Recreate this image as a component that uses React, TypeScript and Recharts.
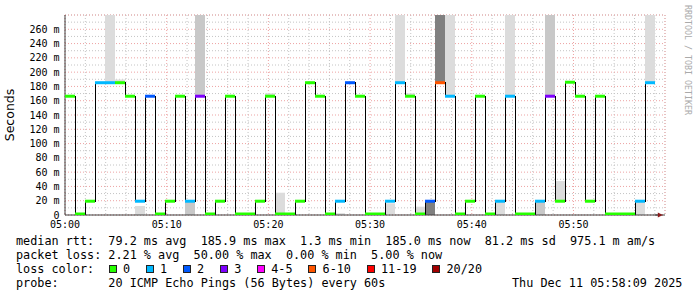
import { ComposedChart, Bar, Cell, Line, XAxis, YAxis, CartesianGrid, ReferenceDot } from "recharts";

// one slot per 60 s probe round (20 pings), 04:58 .. 05:56
const median = [
  166.3, 1.4, 19.3, 185.2, 185.2, 185.2, 166.3, 19.3, 166.3, 1.4,
  19.3, 166.3, 19.3, 166.3, 1.4, 19.3, 166.3, 1.4, 1.4, 19.3,
  166.3, 1.4, 1.4, 19.3, 185.2, 166.3, 1.4, 19.3, 185.2, 166.3,
  1.4, 1.4, 19.3, 185.2, 166.3, 1.4, 19.3, 185.2, 166.3, 1.4,
  19.3, 166.3, 1.4, 19.3, 166.3, 1.4, 1.4, 19.3, 166.3, 19.3,
  185.9, 166.3, 19.3, 166.3, 1.4, 1.4, 1.4, 19.3, 185.2,
];

// lost pings out of 20 per slot
const lostPings = [
  0, 0, 0, 1, 1, 0, 0, 1, 2, 0,
  0, 0, 1, 3, 0, 0, 0, 0, 0, 0,
  0, 0, 0, 0, 0, 0, 0, 1, 2, 0,
  0, 0, 1, 1, 0, 0, 2, 10, 1, 0,
  0, 0, 0, 1, 1, 0, 0, 1, 3, 0,
  0, 0, 0, 0, 0, 0, 0, 1, 1,
];

// smoke: spread of the individual pings [low, high] in ms
const smoke: ([number, number] | null)[] = [
  null, null, null, null, [185.2, 280], [185.2, 189.7], null, [0, 12.6], null, null,
  null, null, [0, 19.3], [166.3, 280], null, null, null, null, null, null,
  [166.3, 170.4], [0, 31.2], null, null, null, null, null, [0, 2.5], null, null,
  null, null, [1.4, 16.4], [185.2, 280], [166.3, 170.4], [1.4, 11.6], [0, 19.3], [185.2, 280], [166.3, 280], null,
  null, null, null, [0, 19.3], [166.3, 280], null, null, [0, 19.3], [166.3, 280], [19.3, 47.5],
  null, null, null, null, null, null, null, [0, 19.3], [185.2, 280],
];

// smoke density: 0 none, 1 light, 2 medium, 3 dense
const smokeDensity = [
  0, 0, 0, 0, 1, 1, 0, 1, 0, 0,
  0, 0, 2, 2, 0, 0, 0, 0, 0, 0,
  1, 1, 0, 0, 0, 0, 0, 1, 0, 0,
  0, 0, 1, 1, 1, 1, 3, 3, 1, 0,
  0, 0, 0, 1, 1, 0, 0, 2, 2, 1,
  0, 0, 0, 0, 0, 0, 0, 1, 1,
];

// minutes after 05:00
const timeTicks = [0, 10, 20, 30, 40, 50];
const timeLabels = ["05:00", "05:10", "05:20", "05:30", "05:40", "05:50"];
const minorMinutes = [2, 4, 6, 8, 12, 14, 16, 18, 22, 24, 26, 28, 32, 34, 36, 38, 42, 44, 46, 48, 52, 54, 56, 58];

const yTicks = [0, 20, 40, 60, 80, 100, 120, 140, 160, 180, 200, 220, 240, 260];
const minorMs = [10, 30, 50, 70, 90, 110, 130, 150, 170, 190, 210, 230, 250, 270];

const lossLabels = ["0", "1", "2", "3", "4-5", "6-10", "11-19", "20/20"];
const lossLimits = [0, 1, 2, 3, 5, 10, 19, 20];

const LOSS_COLORS = ["#26ff00", "#00b8ff", "#0059ff", "#7e00ff", "#ff00ff", "#ff5500", "#ff0000", "#a10000"];
const SMOKE_FILL = ["none", "#dcdcdc", "#c8c8c8", "#808080"];
const AXIS = "#404040";
const ARROW = "#8c1c1c";
const MAJOR = "#eda3a3";
const MINOR = "#c4c4c4";
const MONO = '"DejaVu Sans Mono", monospace';

const W = 697;
const PLOT_LEFT = 65;
const PLOT_W = 600;
const SLOTS = median.length + 1;
const SLOT_W = PLOT_W / SLOTS;

function lossColor(n: number) {
  const k = lossLimits.findIndex(l => n <= l);
  return LOSS_COLORS[k < 0 ? LOSS_COLORS.length - 1 : k];
}

// colored median tick drawn across the slot
const LossMark = (p: any) => {
  if (p.cy == null || p.payload?.median == null) return <g key={p.index} />;
  return (
    <rect key={p.index} x={p.cx - SLOT_W / 2} y={p.cy - 1.5} width={SLOT_W} height={3}
      fill={lossColor(p.payload.lost)} />
  );
};

const ArrowRight = ({ cx, cy }: any) => (
  <g>
    <line x1={cx} y1={cy} x2={cx + 4} y2={cy} stroke={AXIS} />
    <polygon points={`${cx + 3},${cy - 2.5} ${cx + 8},${cy} ${cx + 3},${cy + 2.5}`} fill={ARROW} />
  </g>
);

const ArrowUp = ({ cx, cy }: any) => (
  <g>
    <line x1={cx} y1={cy} x2={cx} y2={cy - 3} stroke={AXIS} />
    <polygon points={`${cx - 2.5},${cy - 2} ${cx},${cy - 7} ${cx + 2.5},${cy - 2}`} fill={ARROW} />
  </g>
);

export default function App() {
  const rows: any[] = median.map((m, i) => ({
    slot: i, median: m, lost: lostPings[i], smoke: smoke[i], density: smokeDensity[i],
  }));
  rows.push({ slot: median.length, median: null, lost: 0, smoke: null, density: 0 });

  const tickStyle = { fill: "#000", fontSize: 10, fontFamily: MONO };
  const textLine = { position: "absolute" as const, left: 16, whiteSpace: "pre" as const, fontFamily: MONO, fontSize: 11.8, lineHeight: "14px", color: "#000" };

  return (
    <div style={{ position: "absolute", left: 0, top: 0, width: W, height: 297, background: "#fff", overflow: "hidden" }}>
      <ComposedChart width={W} height={232} data={rows} margin={{ top: 15, right: W - PLOT_LEFT - PLOT_W, bottom: 0, left: 0 }}
        barCategoryGap={0} barGap={0}>
        <CartesianGrid xAxisId="minor" yAxisId="minor" stroke={MINOR} strokeDasharray="1 2" />
        <CartesianGrid stroke={MAJOR} strokeDasharray="1 2" />

        <XAxis xAxisId="cat" dataKey="slot" type="category" hide />
        <XAxis xAxisId="minor" type="number" domain={[-2, 58]} allowDataOverflow ticks={minorMinutes} interval={0} hide />
        <YAxis yAxisId="minor" type="number" domain={[0, 280]} allowDataOverflow ticks={minorMs} interval={0} hide />
        <XAxis type="number" domain={[-2, 58]} allowDataOverflow ticks={timeTicks} interval={0}
          tickFormatter={v => timeLabels[timeTicks.indexOf(v)]} height={17}
          axisLine={{ stroke: AXIS }} tickLine={false} tickSize={0} tickMargin={6} tick={tickStyle} />
        <YAxis type="number" domain={[0, 280]} allowDataOverflow ticks={yTicks} interval={0} width={PLOT_LEFT}
          tickFormatter={v => (v === 0 ? "0" : `${v} m`)}
          axisLine={{ stroke: AXIS }} tickLine={false} tickSize={0} tickMargin={5.5} tick={tickStyle}
          label={{ value: "Seconds", angle: -90, position: "insideLeft", offset: 10,
            style: { textAnchor: "middle", fontFamily: '"DejaVu Sans", sans-serif', fontSize: 12.5, fill: "#000" } }} />

        <Bar xAxisId="cat" dataKey="smoke" isAnimationActive={false}>
          {rows.map((r, i) => <Cell key={i} fill={SMOKE_FILL[r.density]} />)}
        </Bar>
        <Line xAxisId="cat" dataKey="median" type="step" stroke="#000" strokeWidth={1} shapeRendering="crispEdges"
          dot={LossMark} activeDot={false} isAnimationActive={false} />

        <ReferenceDot x={58} y={0} shape={ArrowRight} />
        <ReferenceDot x={-2} y={280} shape={ArrowUp} />
      </ComposedChart>

      <div style={{ position: "absolute", left: 684, top: 5, width: 120, transformOrigin: "left top",
        transform: "rotate(90deg) translate(0, -8px)", fontFamily: MONO, fontSize: 8.3, lineHeight: "8px",
        color: "#aaa", whiteSpace: "pre" }}>
        RRDTOOL / TOBI OETIKER
      </div>

      <div style={{ ...textLine, top: 234 }}>
        {"median rtt:  79.2 ms avg  185.9 ms max  1.3 ms min  185.0 ms now  81.2 ms sd  975.1 m am/s"}
      </div>
      <div style={{ ...textLine, top: 248 }}>
        {"packet loss: 2.21 % avg  50.00 % max  0.00 % min  5.00 % now"}
      </div>
      <div style={{ ...textLine, top: 262, display: "flex", alignItems: "center" }}>
        <span style={{ width: 92.6 }}>{"loss color:"}</span>
        {lossLabels.map((l, i) => (
          <span key={l} style={{ display: "flex", alignItems: "center", marginRight: 15.7 }}>
            <span style={{ display: "inline-block", width: 6, height: 6, border: "1px solid #222",
              background: LOSS_COLORS[i], marginRight: 6.3 }} />
            {l}
          </span>
        ))}
      </div>
      <div style={{ ...textLine, top: 276 }}>
        {"probe:       20 ICMP Echo Pings (56 Bytes) every 60s"}
      </div>
      <div style={{ ...textLine, top: 276, left: 512 }}>
        {"Thu Dec 11 05:58:09 2025"}
      </div>
    </div>
  );
}
